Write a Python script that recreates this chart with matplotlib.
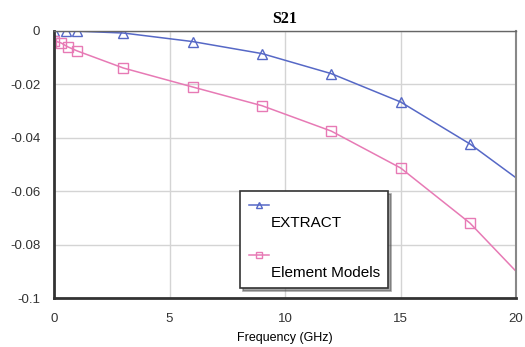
import matplotlib
matplotlib.use("Agg")
import matplotlib.pyplot as plt

# S21 values (Frequency in GHz)
freq_extract = [0, 0.5, 1, 3, 6, 9, 12, 15, 18, 20]
s21_extract = [0.0, 0.0, -0.0001, -0.0008, -0.004, -0.0085, -0.016, -0.0266, -0.0423, -0.0550]

freq_model = [0, 0.3, 0.6, 1, 3, 6, 9, 12, 15, 18, 20]
s21_model = [-0.0037, -0.0045, -0.006, -0.0075, -0.0139, -0.021, -0.028, -0.0375, -0.0513, -0.0719, -0.0900]

marker_n_extract = 9   # last point (20 GHz) has no marker
marker_n_model = 10

xticks = [0, 5, 10, 15, 20]
yticks = [0, -0.02, -0.04, -0.06, -0.08, -0.1]
ytick_labels = ["0", "-0.02", "-0.04", "-0.06", "-0.08", "-0.1"]

blue = "#5668c6"
pink = "#e77ab5"

fig = plt.figure(figsize=(5.25, 3.47), dpi=100)
ax = fig.add_axes([0.103, 0.141, 0.880, 0.770])

ax.plot(freq_extract, s21_extract, color=blue, lw=1.1, marker="^", mfc="none",
        mec=blue, ms=6.5, mew=1.0, markevery=list(range(marker_n_extract)),
        label="\nEXTRACT")
ax.plot(freq_model, s21_model, color=pink, lw=1.1, marker="s", mfc="none",
        mec=pink, ms=7, mew=1.0, markevery=list(range(marker_n_model)),
        label="\nElement Models")

ax.set_xlim(0, 20)
ax.set_ylim(-0.1, 0)
ax.set_xticks(xticks)
ax.set_xticklabels([str(t) for t in xticks], fontsize=9.5, family="Liberation Sans")
ax.set_yticks(yticks)
ax.set_yticklabels(ytick_labels, fontsize=9.5, family="Liberation Sans")
ax.tick_params(length=0, pad=10, colors="#333333")
ax.tick_params(axis="x", pad=11)
ax.grid(True, color="#d4d4d4", lw=1.0)
ax.set_axisbelow(True)

for side in ["left", "bottom"]:
    ax.spines[side].set_color("#333333")
    ax.spines[side].set_linewidth(2.0)
ax.spines["top"].set_color("#666666")
ax.spines["top"].set_linewidth(1.0)
ax.spines["right"].set_color("#888888")
ax.spines["right"].set_linewidth(1.5)

ax.set_title("S21", fontsize=11.5, fontweight="bold", family="Liberation Serif", pad=6)
ax.set_xlabel("Frequency (GHz)", fontsize=9, family="Liberation Sans", labelpad=5)

leg = ax.legend(loc="lower left", bbox_to_anchor=(0.403, 0.037), frameon=True,
                fancybox=False, shadow=True, handlelength=1.3, markerscale=0.7,
                prop={"family": "Liberation Sans", "size": 11}, borderpad=0.55,
                labelspacing=1.3, handletextpad=0.15, borderaxespad=0)
leg.get_frame().set_edgecolor("#333333")
leg.get_frame().set_linewidth(1.2)
# put each legend handle on the first (empty) line, label text below it
for column in leg._legend_handle_box.get_children():
    for item in column.get_children():
        item.align = "top"

fig.savefig("out.png", dpi=100)
